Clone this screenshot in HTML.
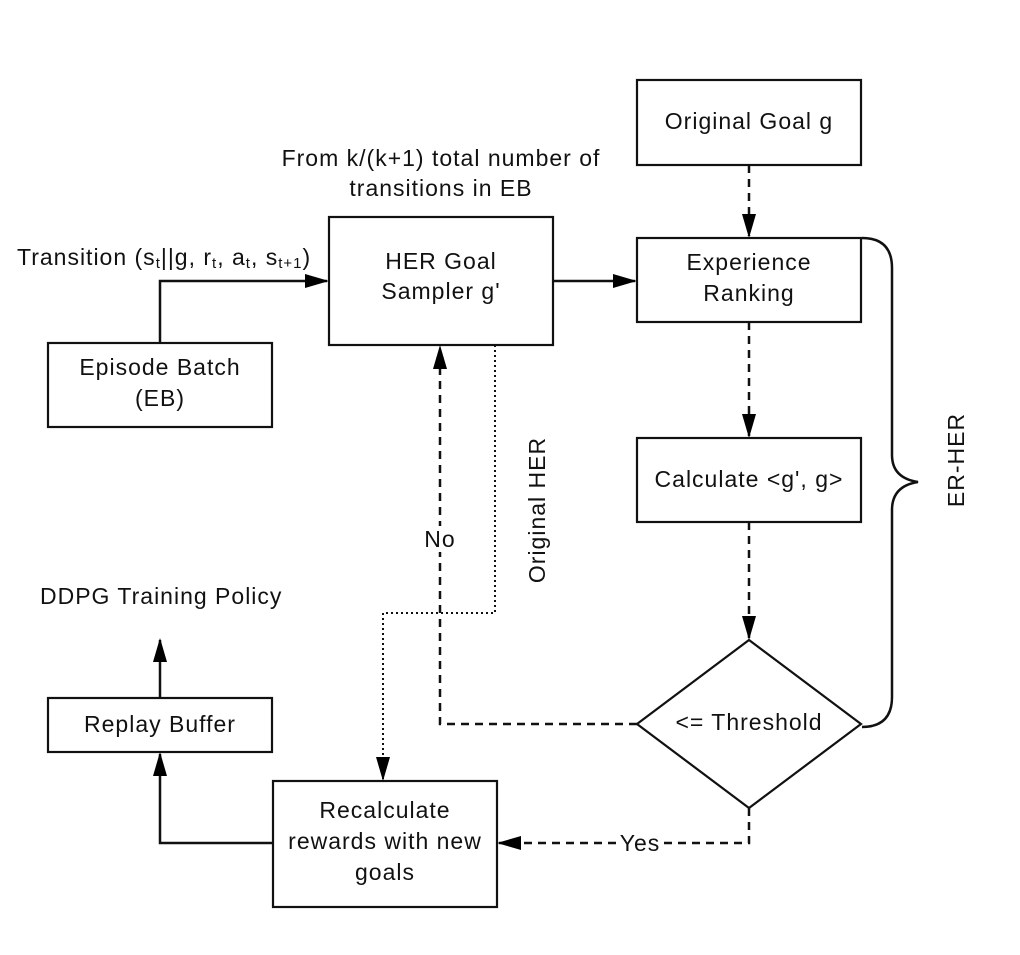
<!DOCTYPE html>
<html><head><style>
html,body{margin:0;padding:0;background:#fff;}
svg{display:block;}
text{font-family:"Liberation Sans",sans-serif;font-size:23px;letter-spacing:1px;fill:#111;}
</style></head><body>
<svg width="1020" height="955" viewBox="0 0 1020 955" xmlns="http://www.w3.org/2000/svg">
<defs>
<marker id="a" markerWidth="24" markerHeight="14" refX="22" refY="7" orient="auto" markerUnits="userSpaceOnUse">
<path d="M0,0 L24,7 L0,14 Z" fill="#000"/></marker>
</defs>
<g fill="#fff" stroke="#111" stroke-width="2.2">
<rect x="637" y="80" width="224" height="85"/>
<rect x="329" y="217" width="224" height="128"/>
<rect x="637" y="238" width="224" height="84"/>
<rect x="48" y="343" width="224" height="84"/>
<rect x="637" y="438" width="224" height="84"/>
<polygon points="749,640 861,724 749,808 637,724"/>
<rect x="48" y="698" width="224" height="54"/>
<rect x="273" y="781" width="224" height="126"/>
</g>
<g fill="none" stroke="#111" stroke-width="2.5">
<path d="M160,343 V281 H327" marker-end="url(#a)"/>
<path d="M553,281 H635" marker-end="url(#a)"/>
<path d="M160,698 V640" marker-end="url(#a)"/>
<path d="M273,843 H160 V754" marker-end="url(#a)"/>
</g>
<g fill="none" stroke="#111" stroke-width="2.5" stroke-dasharray="8,6">
<path d="M749,165 V236" marker-end="url(#a)"/>
<path d="M749,322 V436" marker-end="url(#a)"/>
<path d="M749,522 V638" marker-end="url(#a)"/>
<path d="M637,724 H440 V347" marker-end="url(#a)"/>
<path d="M749,808 V843 H499" marker-end="url(#a)"/>
</g>
<path d="M495,345 V613 H383 V779" fill="none" stroke="#111" stroke-width="2" stroke-dasharray="2,3" marker-end="url(#a)"/>
<path d="M862,238 Q892,238 892,268 V455 Q892,478 918,482 Q892,486 892,510 V697 Q892,727 862,727" fill="none" stroke="#111" stroke-width="2.5"/>
<rect x="422" y="526" width="36" height="26" fill="#fff"/>
<rect x="618" y="831" width="44" height="24" fill="#fff"/>
<g text-anchor="middle">
<text x="749" y="129">Original Goal g</text>
<text x="441" y="269">HER Goal</text>
<text x="441" y="299">Sampler g'</text>
<text x="749" y="270">Experience</text>
<text x="749" y="301">Ranking</text>
<text x="160" y="375">Episode Batch</text>
<text x="160" y="406">(EB)</text>
<text x="749" y="487">Calculate &lt;g', g&gt;</text>
<text x="749" y="730">&lt;= Threshold</text>
<text x="160" y="732">Replay Buffer</text>
<text x="385" y="818">Recalculate</text>
<text x="385" y="849">rewards with new</text>
<text x="385" y="880">goals</text>
<text x="441" y="166">From k/(k+1) total number of</text>
<text x="441" y="196">transitions in EB</text>
<text x="440" y="547">No</text>
<text x="640" y="851">Yes</text>
</g>
<text x="17" y="265">Transition (s<tspan font-size="15" dy="3">t</tspan><tspan dy="-3">||g, r</tspan><tspan font-size="15" dy="3">t</tspan><tspan dy="-3">, a</tspan><tspan font-size="15" dy="3">t</tspan><tspan dy="-3">, s</tspan><tspan font-size="15" dy="3">t+1</tspan><tspan dy="-3">)</tspan></text>
<text x="40" y="604">DDPG Training Policy</text>
<text transform="translate(545,510) rotate(-90)" text-anchor="middle">Original HER</text>
<text transform="translate(964,460) rotate(-90)" text-anchor="middle">ER-HER</text>
</svg>
</body></html>
